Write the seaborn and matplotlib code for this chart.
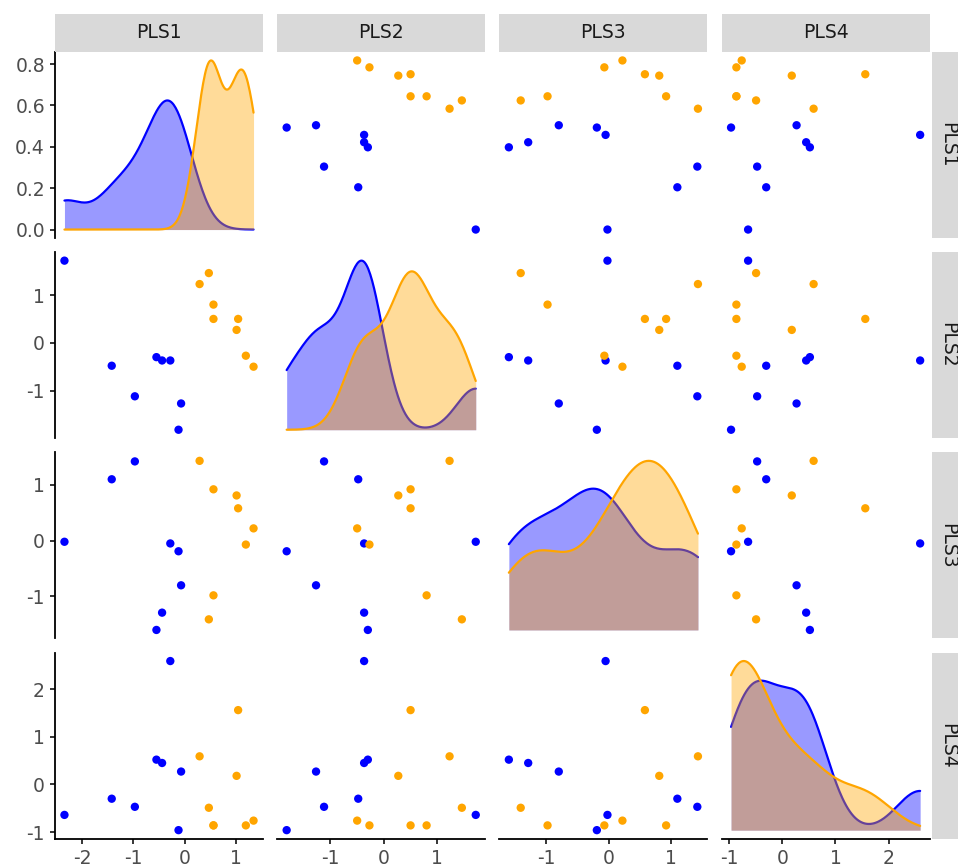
import numpy as np
import pandas as pd
import matplotlib
matplotlib.use("Agg")
import matplotlib.pyplot as plt
import seaborn as sns
from matplotlib.ticker import MultipleLocator, FormatStrFormatter

# ---------------- data ----------------
variables = ["PLS1", "PLS2", "PLS3", "PLS4"]
groups = ["A"] * 8 + ["B"] * 8
pls1 = [-2.34, -1.42, -0.97, -0.55, -0.44, -0.28, -0.12, -0.07,
        0.29, 0.47, 0.56, 0.56, 1.01, 1.04, 1.34, 1.19]
pls2 = [1.72, -0.48, -1.12, -0.30, -0.37, -0.37, -1.82, -1.27,
        1.23, 1.46, 0.50, 0.80, 0.27, 0.50, -0.50, -0.27]
pls3 = [-0.02, 1.10, 1.42, -1.60, -1.29, -0.05, -0.19, -0.80,
        1.43, -1.41, 0.92, -0.98, 0.81, 0.58, 0.22, -0.07]
pls4 = [-0.64, -0.30, -0.47, 0.52, 0.45, 2.59, -0.96, 0.27,
        0.59, -0.49, -0.86, -0.86, 0.18, 1.56, -0.76, -0.86]
palette = {"A": "blue", "B": "orange"}

df = pd.DataFrame({"group": groups, "PLS1": pls1, "PLS2": pls2,
                   "PLS3": pls3, "PLS4": pls4})

# ---------------- style ----------------
sns.set_theme(style="white")
plt.rcParams['font.family'] = ['DejaVu Sans']
plt.rcParams['axes.unicode_minus'] = False

W, H = 958, 866
fig = plt.figure(figsize=(W / 100, H / 100), dpi=100)

col_x = [55, 277.2, 499.4, 721.6]
row_y = [52, 252.2, 452.4, 652.6]
pw, ph = 208, 186
strip = 38
TICK_FS = 13.5
STRIP_FS = 13.5
TICK_COLOR = "#4D4D4D"


def rect(x, y, w, h):
    return [x / W, 1 - (y + h) / H, w / W, h / H]


def lim(v):
    lo, hi = float(np.min(v)), float(np.max(v))
    e = (hi - lo) * 0.05
    return lo - e, hi + e


def nrd0(x):
    x = np.asarray(x, float)
    sd = np.std(x, ddof=1)
    q75, q25 = np.percentile(x, [75, 25])
    lo = min(sd, (q75 - q25) / 1.34)
    return 0.9 * lo * len(x) ** -0.2, sd


for i, yv in enumerate(variables):
    for j, xv in enumerate(variables):
        ax = fig.add_axes(rect(col_x[j], row_y[i], pw, ph))
        ax.set_facecolor("white")
        if i == j:
            lo, hi = float(df[xv].min()), float(df[xv].max())
            z = 1
            for g in ["A", "B"]:
                vals = df.loc[df.group == g, xv].values
                bw, sd = nrd0(vals)
                f = bw / sd
                sns.kdeplot(x=vals, ax=ax, bw_method=f, clip=(lo, hi), cut=50,
                            fill=True, color=palette[g], alpha=0.4,
                            linewidth=0, zorder=z)
                sns.kdeplot(x=vals, ax=ax, bw_method=f, clip=(lo, hi), cut=50,
                            fill=False, color=palette[g], linewidth=1.6,
                            zorder=z + 1)
                z += 2
            ymax = max(np.max(l.get_ydata()) for l in ax.get_lines())
            ax.set_ylim(-0.05 * ymax, 1.05 * ymax)
            ax.set_xlim(*lim(df[xv]))
        else:
            sns.scatterplot(data=df, x=xv, y=yv, hue="group", palette=palette,
                            ax=ax, s=36, linewidth=0, legend=False, zorder=3)
            ax.set_xlim(*lim(df[xv]))
            ax.set_ylim(*lim(df[yv]))
        ax.set_xlabel("")
        ax.set_ylabel("")
        for s in ax.spines.values():
            s.set_visible(False)
        ax.grid(False)
        ax.tick_params(axis="both", length=0, labelleft=False, labelbottom=False)
        if j == 0:
            ax.spines["left"].set_visible(True)
            ax.spines["left"].set_color("black")
            ax.spines["left"].set_linewidth(1.3)
            if i == 0:
                ax.yaxis.set_major_locator(MultipleLocator(0.2))
                ax.yaxis.set_major_formatter(FormatStrFormatter("%.1f"))
            else:
                ax.yaxis.set_major_locator(MultipleLocator(1))
                ax.yaxis.set_major_formatter(FormatStrFormatter("%d"))
            ax.tick_params(axis="y", left=True, labelleft=True, length=3.6,
                           width=1.1, color="black", pad=3.6,
                           labelsize=TICK_FS, labelcolor=TICK_COLOR)
        if i == 3:
            ax.spines["bottom"].set_visible(True)
            ax.spines["bottom"].set_color("black")
            ax.spines["bottom"].set_linewidth(1.3)
            ax.xaxis.set_major_locator(MultipleLocator(1))
            ax.xaxis.set_major_formatter(FormatStrFormatter("%d"))
            ax.tick_params(axis="x", bottom=True, labelbottom=True, length=3.6,
                           width=1.1, color="black", pad=3.6,
                           labelsize=TICK_FS, labelcolor=TICK_COLOR)

# top strips
for j, v in enumerate(variables):
    sax = fig.add_axes(rect(col_x[j], 14, pw, strip))
    sax.set_facecolor("#D9D9D9")
    sax.set_xticks([]); sax.set_yticks([])
    for s in sax.spines.values():
        s.set_visible(False)
    sax.text(0.5, 0.5, v, ha="center", va="center", fontsize=STRIP_FS,
             color="#1A1A1A", transform=sax.transAxes)

# right strips (the strip runs past the right edge, as in the reference)
for i, v in enumerate(variables):
    sax = fig.add_axes(rect(931.5, row_y[i], strip, ph))
    sax.set_facecolor("#D9D9D9")
    sax.set_xticks([]); sax.set_yticks([])
    for s in sax.spines.values():
        s.set_visible(False)
    fig.text(947.5 / W, 1 - (row_y[i] + ph / 2) / H, v, ha="center",
             va="center", fontsize=STRIP_FS, rotation=270, color="#1A1A1A",
             rotation_mode="anchor")

fig.savefig("out.png", dpi=100, facecolor="white")
